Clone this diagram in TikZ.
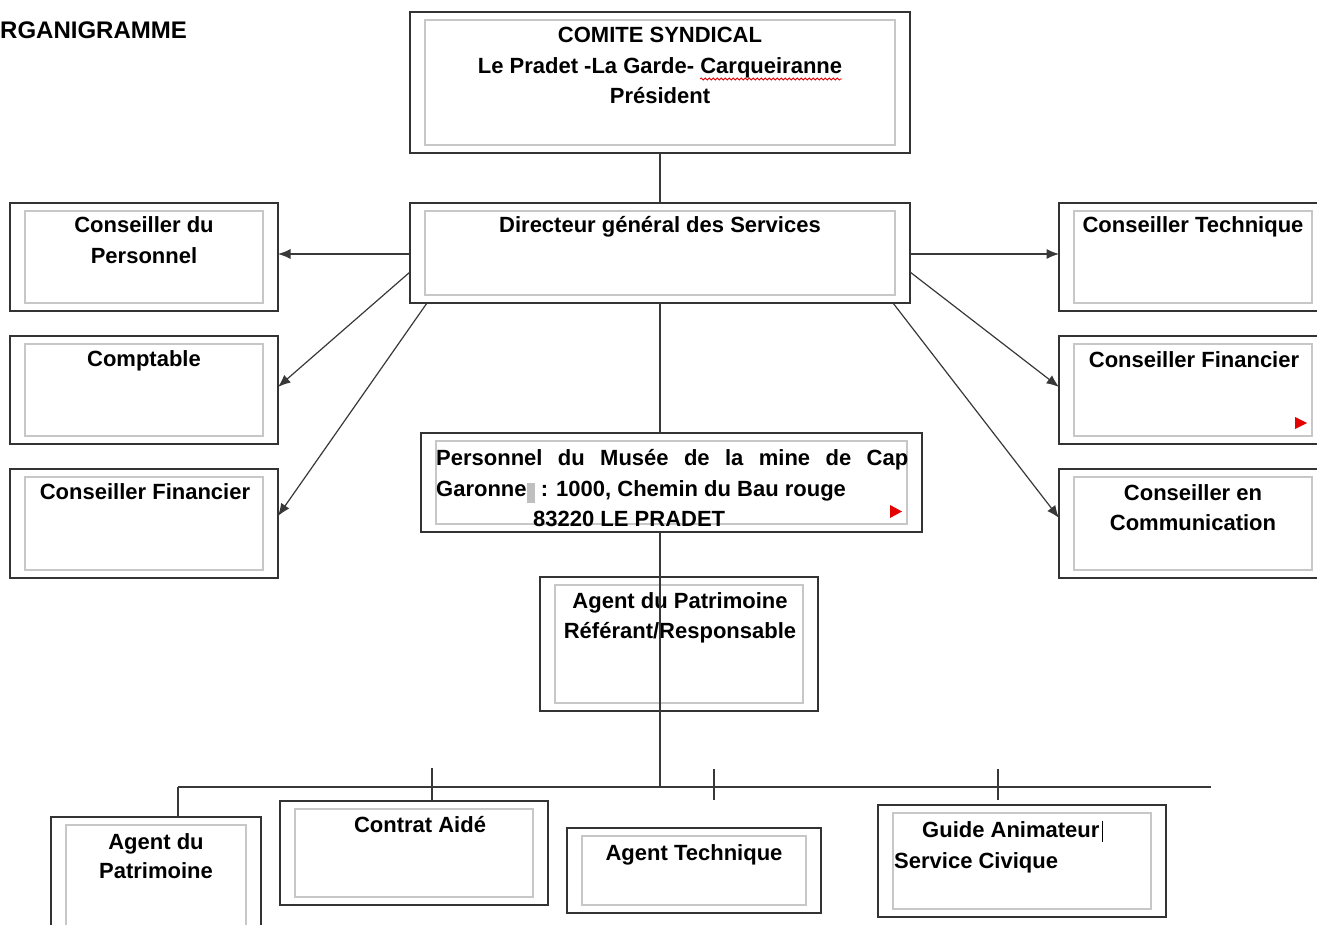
\documentclass[tikz,border=0pt]{standalone}
\usepackage{fontspec}
\setmainfont{Liberation Sans}
\usetikzlibrary{arrows.meta,calc,decorations.pathmorphing}
\newcommand\orgbox[5]{%
  \node[outer, minimum width={(#4-#2)*1pt}, minimum height={(#5-#3)*1pt}] (#1) at ({(#2+#4)/2},{(#3+#5)/2}) {};
  \draw[innerbox] ([shift={(15,8)}]#1.north west) rectangle ([shift={(-15,-8)}]#1.south east);}
\newcommand\orglines[1]{\begin{tabular}[t]{@{}c@{}}#1\end{tabular}}
\begin{document}
\begin{tikzpicture}[x=1pt,y=-1pt,
  outer/.style={draw=black!80, line width=1.8pt, fill=white, rectangle, inner sep=0pt, outer sep=0pt},
  innerbox/.style={draw=black!22, line width=1.1pt},
  txt/.style={font=\bfseries\fontsize{22}{30.5}\selectfont, inner sep=0pt, anchor=base, text=black},
  link/.style={draw=black!78, line width=1.2pt},
  arr/.style={link, -{Latex[length=12.5pt,width=10pt]}}]
\useasboundingbox (0,0) rectangle (1317,925);

% boxes
\orgbox{com}{410}{12}{910}{153}
\orgbox{dgs}{410}{203}{910}{303}
\orgbox{cp}{10}{203}{278}{311}
\orgbox{compt}{10}{336}{278}{444}
\orgbox{cfl}{10}{469}{278}{578}
\orgbox{ct}{1059}{203}{1327}{311}
\orgbox{cfr}{1059}{336}{1327}{444}
\orgbox{ccom}{1059}{469}{1327}{578}
\orgbox{mus}{421}{433}{922}{532}
\orgbox{ag}{540}{577}{818}{711}
\orgbox{apm}{51}{817}{261}{945}
\orgbox{ca}{280}{801}{548}{905}
\orgbox{at}{567}{828}{821}{913}
\orgbox{gd}{878}{805}{1166}{917}

% texts
\node[txt, font=\bfseries\fontsize{24}{28}\selectfont, anchor=base west] (title) at (0,39) {RGANIGRAMME};
\node[txt] (com-t) at (660,43) {\orglines{COMITE SYNDICAL\\Le Pradet -La Garde- Carqueiranne\\Président}};
\node[txt] (dgs-t) at (660,233) {Directeur général des Services};
\node[txt] (cp-t) at (144,233) {\orglines{Conseiller du\\Personnel}};
\node[txt] (compt-t) at (144,366) {Comptable};
\node[txt] (cfl-t) at (145,499) {Conseiller Financier};
\node[txt] (ct-t) at (1193,233) {Conseiller Technique};
\node[txt] (cfr-t) at (1194,367) {Conseiller Financier};
\node[txt] (ccom-t) at (1193,500) {\orglines{Conseiller en\\Communication}};
\node[txt, anchor=base west] (mus-l1) at (436,465) {\makebox[472pt][s]{Personnel du Musée de la mine de Cap}};
\node[txt, anchor=base west] (mus-l2) at (436,496) {Garonne{\color{black!25}\rule[-7pt]{8pt}{20pt}}\ : 1000, Chemin du Bau rouge};
\node[txt, anchor=base west] (mus-l3) at (533,526) {83220 LE PRADET};
\node[txt] (ag-t) at (680,608) {\orglines{Agent du Patrimoine\\Référant/Responsable}};
\node[txt, font=\bfseries\fontsize{22}{29}\selectfont] (apm-t) at (156,849) {\orglines{Agent du\\Patrimoine}};
\node[txt] (ca-t) at (420,832) {Contrat Aidé};
\node[txt] (at-t) at (694,860) {Agent Technique};
\node[txt, anchor=base west] (gd-l1) at (922,837) {Guide Animateur};
\node[txt, anchor=base west] (gd-l2) at (894,868) {Service Civique};

% small marks
\draw[red!90!black, line width=0.8pt, decorate, decoration={snake, amplitude=1pt, segment length=4pt}] (700,79) -- (842,79);
\fill[red!90!black] (1295,417) -- (1307,423) -- (1295,429) -- cycle;
\fill[red!90!black] (890,505) -- (902,511.5) -- (890,518) -- cycle;
\draw[black, line width=1pt] (gd-l1.base east) ++(3,-16) -- ++(0,21);

% connectors
\draw[link] (com.south) -- (dgs.north);
\draw[arr] ([shift={(0,51)}]dgs.north west) -- ([shift={(0,51)}]cp.north east);
\draw[arr] ([shift={(0,69)}]dgs.north west) -- ([shift={(0,51)}]compt.north east);
\draw[arr] ([shift={(17,0)}]dgs.south west) -- ([shift={(0,47)}]cfl.north east);
\draw[arr] ([shift={(0,51)}]dgs.north east) -- ([shift={(0,51)}]ct.north west);
\draw[arr] ([shift={(0,69)}]dgs.north east) -- ([shift={(0,51)}]cfr.north west);
\draw[arr] ([shift={(-17,0)}]dgs.south east) -- ([shift={(0,49)}]ccom.north west);

\coordinate (trunk) at (660,787);
\coordinate (busL) at (178,787);
\coordinate (busR) at (1211,787);
\coordinate (tk1) at (432,768);
\coordinate (tk2) at (714,769);
\coordinate (tk2e) at (714,800);
\coordinate (tk3) at (998,769);
\coordinate (tk3e) at (998,800);
\draw[link] (dgs.south) -- (dgs.south |- mus.north);
\draw[link] (dgs.south |- mus.south) -- (trunk);
\draw[link] (busL) -- (busR);
\draw[link] (busL) -- (busL |- apm.north);
\draw[link] (tk1) -- (tk1 |- ca.north);
\draw[link] (tk2) -- (tk2e);
\draw[link] (tk3) -- (tk3e);
\end{tikzpicture}
\end{document}
